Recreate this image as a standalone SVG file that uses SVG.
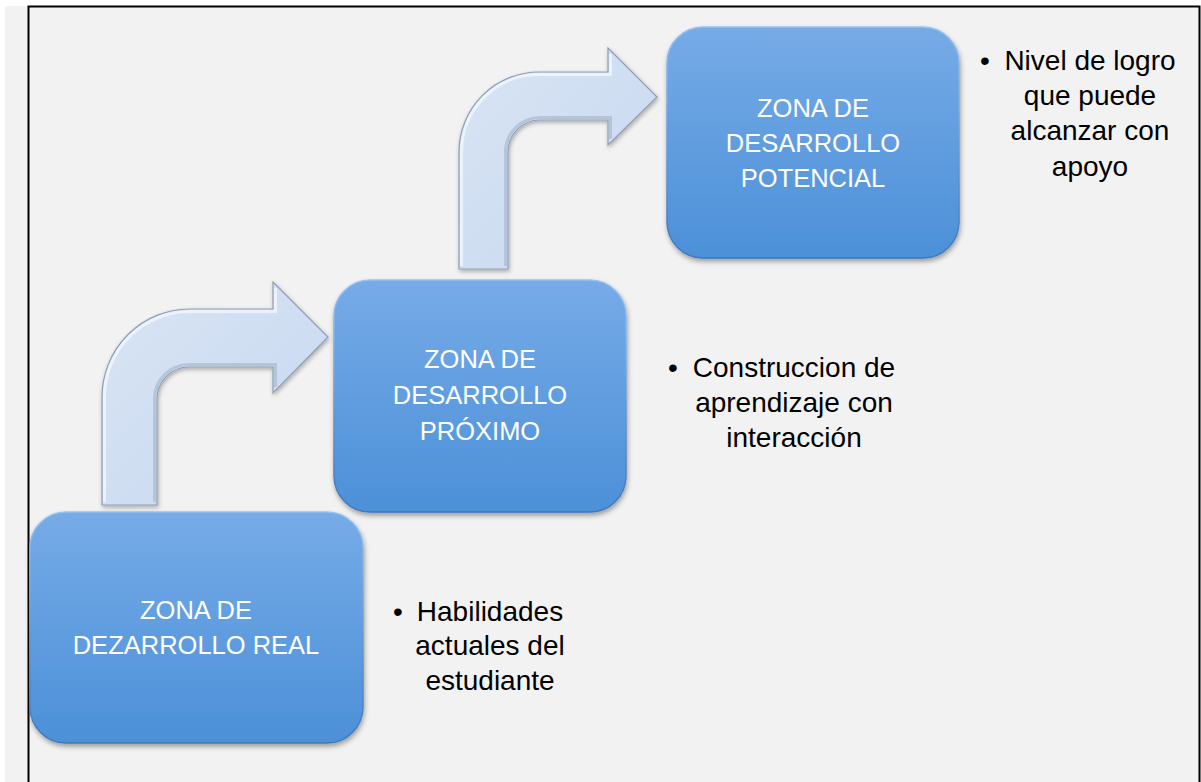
<svg xmlns="http://www.w3.org/2000/svg" width="1201" height="782" viewBox="0 0 1201 782">
<defs>
<linearGradient id="boxFill" x1="0" y1="0" x2="0" y2="1">
<stop offset="0" stop-color="#76abe7"/>
<stop offset="1" stop-color="#4c90d8"/>
</linearGradient>
<linearGradient id="boxEdge" x1="0" y1="0" x2="0" y2="1">
<stop offset="0" stop-color="#96c2f0"/>
<stop offset="1" stop-color="#3a77bc"/>
</linearGradient>
<linearGradient id="arrowFill" x1="0" y1="0" x2="1" y2="1">
<stop offset="0" stop-color="#d9e5f5"/>
<stop offset="1" stop-color="#c6d7ee"/>
</linearGradient>
<filter id="shadow" x="-10%" y="-10%" width="120%" height="125%">
<feDropShadow dx="1" dy="3" stdDeviation="2.5" flood-color="#000" flood-opacity="0.35"/>
</filter>
<filter id="ashadow" x="-10%" y="-10%" width="125%" height="125%">
<feDropShadow dx="1" dy="2" stdDeviation="2" flood-color="#000" flood-opacity="0.3"/>
</filter>
</defs>
<style>
.box{fill:url(#boxFill);stroke:url(#boxEdge);stroke-width:1.5;filter:url(#shadow)}
.arrow{fill:url(#arrowFill);stroke:#8d9fb8;stroke-width:1.2;stroke-linejoin:miter;filter:url(#ashadow)}
.arrowhl{fill:none;stroke:#f4f8fd;stroke-width:3;stroke-opacity:0.75}
.arrowsh{fill:none;stroke:#a9b9cf;stroke-width:3;stroke-opacity:0.7}
.bt{font-family:"Liberation Sans",Arial,sans-serif;font-size:25.5px;fill:#ffffff;text-anchor:middle}
.nt{font-family:"Liberation Sans",Arial,sans-serif;font-size:28px;fill:#000000;text-anchor:middle}
.frame{fill:none;stroke:#000;stroke-width:2}
</style>
<rect x="0" y="0" width="1201" height="782" fill="#ffffff"/>
<rect x="5" y="6" width="1196" height="776" fill="#f2f2f2"/>
<path class="frame" d="M28.5,782 L28.5,6.5 L1199.5,6.5 L1199.5,782"/>

<g id="connectors">
<path class="arrow" d="M102,505 L102,397 A88,88 0 0 1 190,309 L273,309 L273,282 L328,337 L273,393 L273,367 L189,367 A32,32 0 0 0 157,399 L157,505 Z"/>
<path class="arrowhl" d="M104.5,502 L104.5,397 A85.5,85.5 0 0 1 190,311.5 L275.5,311.5 L275.5,288"/>
<path class="arrowsh" d="M154.5,502 L154.5,399 A34.5,34.5 0 0 1 189,364.5 L275.5,364.5 L275.5,387"/>
<path class="arrow" d="M459,269 L459,152 A80,80 0 0 1 539,72 L608,72 L608,48 L657,97 L608,145 L608,120 L540,120 A32,32 0 0 0 508,152 L508,269 Z"/>
<path class="arrowhl" d="M461.5,266 L461.5,152 A77.5,77.5 0 0 1 539,74.5 L610.5,74.5 L610.5,54"/>
<path class="arrowsh" d="M505.5,266 L505.5,152 A34.5,34.5 0 0 1 540,117.5 L610.5,117.5 L610.5,139"/>
</g>

<g id="box1">
<rect class="box" x="30" y="512" width="333" height="231" rx="36" ry="36"/>
<text class="bt" x="196" y="619">ZONA DE</text>
<text class="bt" x="196" y="654">DEZARROLLO REAL</text>
</g>

<g id="box2">
<rect class="box" x="334" y="280" width="292" height="232" rx="36" ry="36"/>
<text class="bt" x="480" y="368">ZONA DE</text>
<text class="bt" x="480" y="404">DESARROLLO</text>
<text class="bt" x="480" y="440">PRÓXIMO</text>
</g>

<g id="box3">
<rect class="box" x="667" y="27" width="292" height="231" rx="36" ry="36"/>
<text class="bt" x="813" y="117">ZONA DE</text>
<text class="bt" x="813" y="152">DESARROLLO</text>
<text class="bt" x="813" y="187">POTENCIAL</text>
</g>

<g id="note1">
<text class="nt" x="398" y="621">•</text>
<text class="nt" x="490" y="621">Habilidades</text>
<text class="nt" x="490" y="655">actuales del</text>
<text class="nt" x="490" y="690">estudiante</text>
</g>

<g id="note2">
<text class="nt" x="673" y="377">•</text>
<text class="nt" x="794" y="377">Construccion de</text>
<text class="nt" x="794" y="412">aprendizaje con</text>
<text class="nt" x="794" y="447">interacción</text>
</g>

<g id="note3">
<text class="nt" x="985" y="70">•</text>
<text class="nt" x="1090" y="70">Nivel de logro</text>
<text class="nt" x="1090" y="105">que puede</text>
<text class="nt" x="1090" y="140">alcanzar con</text>
<text class="nt" x="1090" y="176">apoyo</text>
</g>
</svg>
